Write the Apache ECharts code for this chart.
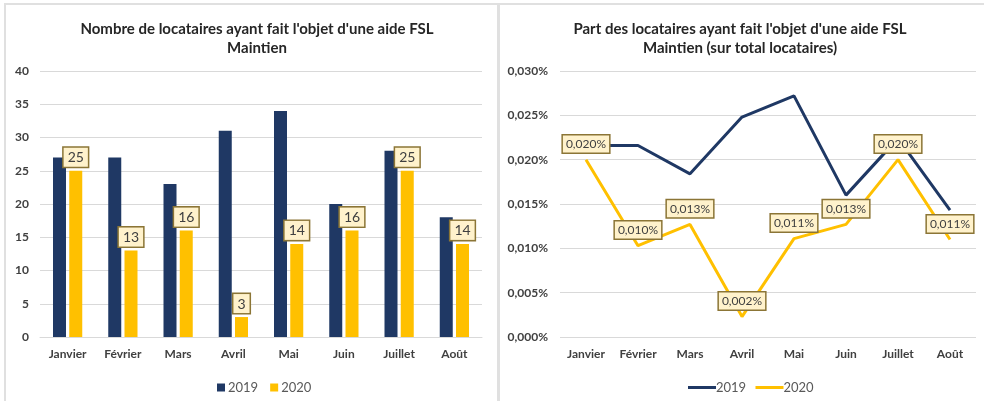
<!DOCTYPE html>
<html>
<head>
<meta charset="utf-8">
<script src="https://cdn.jsdelivr.net/npm/echarts@6/dist/echarts.min.js"></script>
<style>
  html, body { margin: 0; padding: 0; background: #fff; }
  #chart { width: 984px; height: 401px; }
</style>
</head>
<body>
<div id="chart"></div>
<script>
// données
const months = ['Janvier', 'Février', 'Mars', 'Avril', 'Mai', 'Juin', 'Juillet', 'Août'];
const count2019 = [27, 27, 23, 31, 34, 20, 28, 18];
const count2020 = [25, 13, 16, 3, 14, 16, 25, 14];
// part en % du total locataires
const share2019 = [0.0216, 0.0216, 0.0184, 0.0248, 0.0272, 0.0160, 0.0224, 0.0143];
const share2020 = [0.0200, 0.0103, 0.0127, 0.0023, 0.0111, 0.0127, 0.0200, 0.0110];

const navy = '#1F3864';
const gold = '#FFC000';
const font = 'Lato, "Liberation Sans", sans-serif';

const boxLabel = {
  show: true,
  position: 'top',
  color: '#404040',
  fontFamily: font,
  backgroundColor: '#FFF2CC',
  borderColor: '#8B7536',
  borderWidth: 1.5
};

const chart = echarts.init(document.getElementById('chart'));

const axisText = { color: '#404040', fontWeight: 'bold', fontSize: 12, fontFamily: font };
const titleText = { fontSize: 15, fontWeight: 'bold', color: '#262626', fontFamily: font, lineHeight: 19 };

const option = {
  animation: false,
  title: [{
    text: "Nombre de locataires ayant fait l'objet d'une aide FSL\nMaintien",
    left: 252, top: 15, textAlign: 'center',
    textStyle: titleText
  }, {
    text: "Part des locataires ayant fait l'objet d'une aide FSL\nMaintien (sur total locataires)",
    left: 735, top: 15, textAlign: 'center',
    textStyle: titleText
  }],
  legend: [{
    data: ['2019', '2020'].map(n => ({ name: n })),
    left: 212, top: 376,
    itemWidth: 8, itemHeight: 8, itemGap: 12, icon: 'rect',
    textStyle: { color: '#595959', fontSize: 13, fontFamily: font, padding: [0, 0, 0, -2] }
  }, {
    data: ['2019 ', '2020 '],
    left: 683, top: 376,
    itemWidth: 28, itemHeight: 3, itemGap: 6,
    icon: 'rect',
    textStyle: { color: '#595959', fontSize: 13, fontFamily: font, padding: [0, 0, 0, -5] }
  }],
  graphic: [
    { type: 'rect', shape: { x: 4, y: 3, width: 980, height: 2 }, style: { fill: '#E0E0E0' } },
    { type: 'rect', shape: { x: 4, y: 3, width: 2, height: 398 }, style: { fill: '#E0E0E0' } },
    { type: 'rect', shape: { x: 497, y: 3, width: 3, height: 398 }, style: { fill: '#E0E0E0' } }
  ],
  grid: [
    { left: 40, right: 502, top: 71, bottom: 64 },
    { left: 560, right: 8, top: 71, bottom: 64 }
  ],
  xAxis: [{
    gridIndex: 0, type: 'category', data: months,
    axisLine: { lineStyle: { color: '#D9D9D9' } },
    axisTick: { show: false },
    axisLabel: Object.assign({ margin: 11 }, axisText)
  }, {
    gridIndex: 1, type: 'category', data: months,
    axisLine: { show: false },
    axisTick: { show: false },
    axisLabel: Object.assign({ margin: 11 }, axisText)
  }],
  yAxis: [{
    gridIndex: 0, type: 'value', min: 0, max: 40, interval: 5,
    axisLine: { show: false }, axisTick: { show: false },
    splitLine: { lineStyle: { color: '#D9D9D9' } },
    axisLabel: Object.assign({ margin: 11 }, axisText)
  }, {
    gridIndex: 1, type: 'value', min: 0, max: 0.03, interval: 0.005,
    axisLine: { show: false }, axisTick: { show: false },
    splitLine: { lineStyle: { color: '#D9D9D9' } },
    axisLabel: Object.assign({
      margin: 12,
      formatter: v => v.toFixed(3).replace('.', ',') + '%'
    }, axisText)
  }],
  series: [{
    name: '2019', type: 'bar', xAxisIndex: 0, yAxisIndex: 0,
    data: count2019, barWidth: 13, barGap: '25%',
    itemStyle: { color: navy }
  }, {
    name: '2020', type: 'bar', xAxisIndex: 0, yAxisIndex: 0,
    data: count2020, barWidth: 13,
    itemStyle: { color: gold },
    label: Object.assign({}, boxLabel, { fontSize: 14, padding: [3, 4, 2, 4], distance: 4 })
  }, {
    name: '2019 ', type: 'line', xAxisIndex: 1, yAxisIndex: 1,
    data: share2019, symbol: 'none',
    lineStyle: { color: navy, width: 3 }, itemStyle: { color: navy }
  }, {
    name: '2020 ', type: 'line', xAxisIndex: 1, yAxisIndex: 1,
    data: share2020, symbol: 'circle', symbolSize: 0.1, showSymbol: true, z: 3,
    lineStyle: { color: gold, width: 3 }, itemStyle: { color: gold },
    label: Object.assign({}, boxLabel, {
      fontSize: 12, padding: [3, 3, 2, 3], distance: 7,
      formatter: p => p.value.toFixed(3).replace('.', ',') + '%'
    })
  }]
};

chart.setOption(option);
</script>
</body>
</html>
